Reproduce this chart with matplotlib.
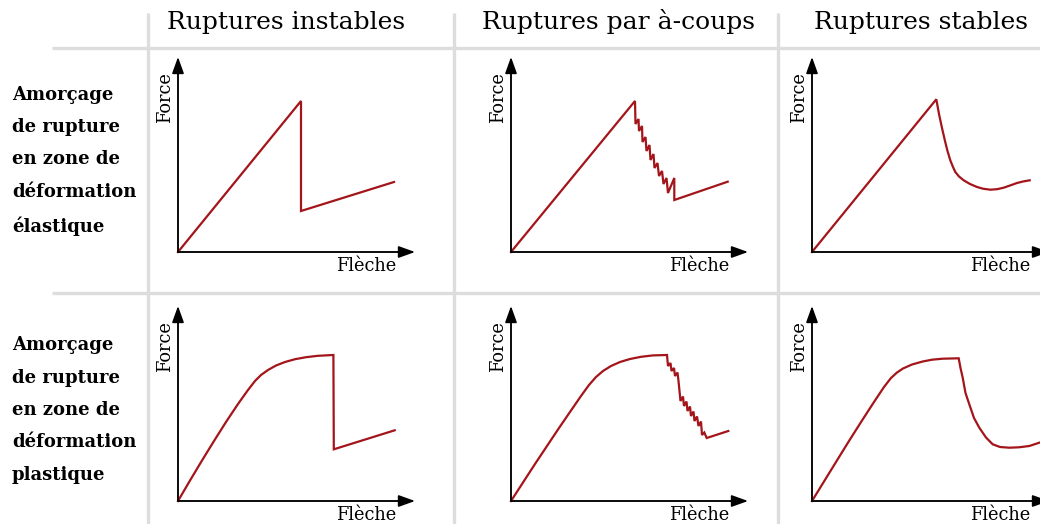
import matplotlib.pyplot as plt

col_titles = ["Ruptures instables", "Ruptures par à-coups", "Ruptures stables"]
row_labels = [
    "Amorçage\nde rupture\nen zone de\ndéformation\nélastique",
    "Amorçage\nde rupture\nen zone de\ndéformation\nplastique",
]
x_label = "Flèche"
y_label = "Force"

# curves, local units: flèche to the right, force up
# row 1 : elastic start
elas_unstable_x = [0, 123, 123, 216]
elas_unstable_y = [0, 151, 41, 70]

elas_jerky_x = [0, 124, 124.5, 127.5, 128, 131, 131.5, 134.5, 135.5, 138.5, 139.5,
                142.5, 143.5, 146.5, 148, 151, 152.5, 155.5, 157, 163.3, 163.3, 216.7]
elas_jerky_y = [0, 151, 128, 133, 121, 126, 110, 115, 101, 107, 92, 98, 84,
                89, 76, 81, 68, 74, 59, 74, 52, 70.3]

elas_stable_x = [0, 124.3, 127, 130, 133, 135.5, 138.3, 141, 143.3, 147, 151.7,
                 158, 165, 171, 178.3, 185, 191.7, 198, 205, 211, 217.7]
elas_stable_y = [0, 152.7, 138, 124, 111, 101, 91.7, 85, 80, 75.5, 71.7,
                 68, 65, 63.3, 62.3, 62.8, 64.3, 66.5, 69, 70.5, 71.7]

# row 2 : plastic start
plas_unstable_x = [0, 12, 24, 36, 48, 60, 70, 77, 83, 90, 98, 107, 117, 128, 140,
                   155.4, 155.8, 216.7]
plas_unstable_y = [0, 20.5, 40.5, 60, 79, 97, 111, 120, 126, 131, 135.5, 139,
                   141.8, 143.8, 145.2, 146, 51.7, 70.7]

plas_jerky_x = [0, 12, 24, 36, 48, 60, 70, 78, 85, 92, 100, 109, 119, 130, 142,
                156, 157, 159.5, 160.5, 163, 164, 166.5, 167.5, 169.5, 172,
                173, 175.5, 176.5, 179, 180, 182.5, 183.5, 186, 187.5, 190,
                191, 193.3, 195.7, 217.3]
plas_jerky_y = [0, 18.5, 37, 55, 73, 90.5, 105, 116, 124, 130, 135, 139, 142,
                144.2, 145.6, 146, 135, 138, 130, 133, 125, 128.5, 120, 100, 104.5,
                95, 99.5, 90, 94.5, 85, 89.5, 80, 84.5, 75, 79.5,
                66, 68.5, 63, 70]

plas_stable_x = [0, 12, 24, 37, 50, 62, 72, 79, 85, 91, 100, 110.7, 120, 130.7,
                 146.7, 148.5, 150.7, 153.5, 157.3, 162, 167.3, 174, 180.7, 188,
                 197.3, 207, 217.3, 227.3, 240]
plas_stable_y = [0, 19.5, 39, 60, 80.5, 99, 114, 123, 128.5, 132.5, 136.5, 139.5, 141.3,
                 142.3, 142.7, 133, 123.3, 108, 96.7, 83, 73.3, 63.5, 56.7, 54,
                 53.3, 53.7, 55, 58.3, 62]

curves = [
    [(elas_unstable_x, elas_unstable_y), (elas_jerky_x, elas_jerky_y), (elas_stable_x, elas_stable_y)],
    [(plas_unstable_x, plas_unstable_y), (plas_jerky_x, plas_jerky_y), (plas_stable_x, plas_stable_y)],
]

# layout in pixels
W, H = 1040, 524
origin_x = [178, 511, 812]
origin_y = [252, 501]
title_x = [286, 618, 921]
x_axis_len = 237
y_axis_len = 195
head_len = 13

red = "#a3151b"
grid_col = "#dddddd"

fig = plt.figure(figsize=(W / 100, H / 100), dpi=100)
ax = fig.add_axes([0, 0, 1, 1])
ax.set_xlim(0, W)
ax.set_ylim(H, 0)
ax.axis("off")

# table lines
for gx in [148, 454, 778]:
    ax.plot([gx, gx], [13, H], color=grid_col, lw=2.4, solid_capstyle="butt")
for gy in [48, 293]:
    ax.plot([52, W], [gy, gy], color=grid_col, lw=2.4, solid_capstyle="butt")

for tx, title in zip(title_x, col_titles):
    ax.text(tx, 22, title, fontsize=18, family="DejaVu Serif", ha="center", va="center")

for oy, lab in zip(origin_y, row_labels):
    ax.text(12, oy - 91, lab, fontsize=13, family="DejaVu Serif", fontweight="bold",
            ha="left", va="center", linespacing=2.03)

for r, oy in enumerate(origin_y):
    for c, ox in enumerate(origin_x):
        arrow = dict(arrowstyle="-|>,head_length=0.5,head_width=0.18", color="black",
                     lw=1.2, mutation_scale=20, shrinkA=0, shrinkB=0)
        ax.annotate("", xy=(ox, oy - y_axis_len), xytext=(ox, oy), arrowprops=arrow,
                    annotation_clip=False)
        ax.annotate("", xy=(ox + x_axis_len, oy), xytext=(ox, oy), arrowprops=arrow,
                    annotation_clip=False)
        ax.plot([ox, ox], [oy, oy - y_axis_len + head_len], color="#555555", lw=1.3)
        ax.plot([ox, ox + x_axis_len - head_len], [oy, oy], color="#555555", lw=1.3)
        ax.text(ox - 13, oy - 154, y_label, rotation=90, fontsize=12.8,
                family="DejaVu Serif", ha="center", va="center")
        ax.text(ox + 218, oy + 14, x_label, fontsize=12.8,
                family="DejaVu Serif", ha="right", va="center")
        xs, ys = curves[r][c]
        ax.plot([ox + v for v in xs], [oy - v for v in ys], color=red, lw=1.6,
                solid_joinstyle="miter")

fig.savefig("out.png", dpi=100)
